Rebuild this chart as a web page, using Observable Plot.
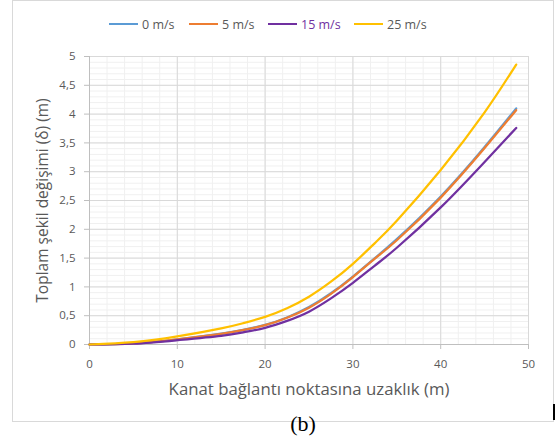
<!DOCTYPE html>
<html><head><meta charset="utf-8">
<script src="https://cdn.jsdelivr.net/npm/d3@7"></script>
<script src="https://cdn.jsdelivr.net/npm/@observablehq/plot@0.6"></script>
<style>
body{margin:0;background:#fff;width:557px;height:443px;overflow:hidden;position:relative;font-family:"Open Sans",sans-serif}
#frame{position:absolute;left:12px;top:0;width:540px;height:420px;border:1px solid #d9d9d9;box-sizing:content-box}
#chart{position:absolute;left:0;top:0}
#legend{position:absolute;top:15px;left:0;width:557px;height:18px;font-size:12.5px;color:#595959}
.item{position:absolute;top:0;display:flex;align-items:center;height:18px;white-space:nowrap}
.sw{display:inline-block;width:29px;height:2.5px;margin-right:4px}
#cap{position:absolute;top:411px;left:0;width:606px;text-align:center;font-family:"Liberation Serif",serif;font-size:22px;color:#000}
#mark{position:absolute;left:553px;top:404px;width:2px;height:16px;background:#000}
</style>
</head><body>
<div id="frame"></div>
<div id="chart"></div>
<div id="legend"></div>
<div id="cap">(b)</div>
<div id="mark"></div>
<script>
const seriesNames = ["0 m/s", "5 m/s", "15 m/s", "25 m/s"];
const seriesColors = ["#5B9BD5", "#ED7D31", "#7030A0", "#FFC000"];
const legendTextColors = ["#595959", "#595959", "#7030A0", "#595959"];
const legendLeft = [109, 189, 268, 354];

const xs  = [0, 5, 10, 15, 17.5, 20, 22.5, 25, 27.5, 30, 32.5, 35, 40, 45, 48.6];
const v0  = [0, 0.02, 0.09, 0.19, 0.255, 0.34, 0.47, 0.65, 0.89, 1.18, 1.5, 1.83, 2.57, 3.43, 4.10];
const v5  = [0, 0.02, 0.09, 0.185, 0.25, 0.335, 0.465, 0.64, 0.88, 1.17, 1.49, 1.81, 2.55, 3.41, 4.07];
const v15 = [0, 0.015, 0.075, 0.15, 0.21, 0.29, 0.41, 0.57, 0.80, 1.07, 1.37, 1.68, 2.38, 3.17, 3.76];
const v25 = [0, 0.04, 0.14, 0.28, 0.37, 0.48, 0.63, 0.83, 1.09, 1.40, 1.76, 2.15, 3.03, 4.03, 4.86];
const seriesValues = [v0, v5, v15, v25];

const xTicks = [0, 10, 20, 30, 40, 50];
const yTicks = [0, 0.5, 1, 1.5, 2, 2.5, 3, 3.5, 4, 4.5, 5];
const yTickLabels = ["0", "0,5", "1", "1,5", "2", "2,5", "3", "3,5", "4", "4,5", "5"];
const xMinor = d3.range(0, 50.001, 2);
const yMinor = d3.range(0, 5.0001, 0.1).map(v => +v.toFixed(1));
const xLabel = "Kanat bağlantı noktasına uzaklık (m)";
const yLabel = "Toplam şekil değişimi (δ) (m)";

const rows = [];
seriesNames.forEach((s, i) => xs.forEach((x, j) => rows.push({series: s, x, y: seriesValues[i][j]})));

const plot = Plot.plot({
  width: 557, height: 400,
  marginLeft: 89, marginRight: 29, marginTop: 56, marginBottom: 56,
  style: {fontFamily: "'Open Sans', sans-serif", fontSize: "11.5px", color: "#595959", background: "transparent", overflow: "visible"},
  x: {domain: [0, 50]},
  y: {domain: [0, 5]},
  color: {domain: seriesNames, range: seriesColors},
  marks: [
    Plot.ruleX(xMinor, {stroke: "#f0f0f0", strokeWidth: 1}),
    Plot.ruleY(yMinor, {stroke: "#f0f0f0", strokeWidth: 1}),
    Plot.ruleX(xTicks, {stroke: "#d9d9d9", strokeWidth: 1}),
    Plot.ruleY(yTicks, {stroke: "#d9d9d9", strokeWidth: 1}),
    Plot.ruleX([0], {stroke: "#bfbfbf"}),
    Plot.ruleY([0], {stroke: "#bfbfbf"}),
    Plot.axisX({ticks: xTicks, tickFormat: d => String(d), tickSize: 5, tickPadding: 10, stroke: "#bfbfbf", fill: "#595959", label: null}),
    Plot.axisY({ticks: yTicks, tickFormat: d => yTickLabels[yTicks.indexOf(d)], tickSize: 5, tickPadding: 9, stroke: "#bfbfbf", fill: "#595959", label: null}),
    Plot.line(rows, {x: "x", y: "y", z: "series", stroke: "series", strokeWidth: 2.25, curve: "natural"}),
    Plot.text([xLabel], {frameAnchor: "bottom", dy: 45, lineAnchor: "middle", textAnchor: "middle", fontSize: 16.8, fill: "#595959", text: d => d}),
    Plot.text([yLabel], {frameAnchor: "left", dx: -46, rotate: -90, lineAnchor: "middle", textAnchor: "middle", fontSize: 15.5, fill: "#595959", text: d => d})
  ]
});
document.getElementById("chart").appendChild(plot);

const legend = document.getElementById("legend");
seriesNames.forEach((s, i) => {
  const it = document.createElement("div");
  it.className = "item";
  it.style.left = legendLeft[i] + "px";
  const sw = document.createElement("span");
  sw.className = "sw";
  sw.style.background = seriesColors[i];
  const tx = document.createElement("span");
  tx.textContent = s;
  tx.style.color = legendTextColors[i];
  it.appendChild(sw); it.appendChild(tx);
  legend.appendChild(it);
});
</script>
</body></html>
